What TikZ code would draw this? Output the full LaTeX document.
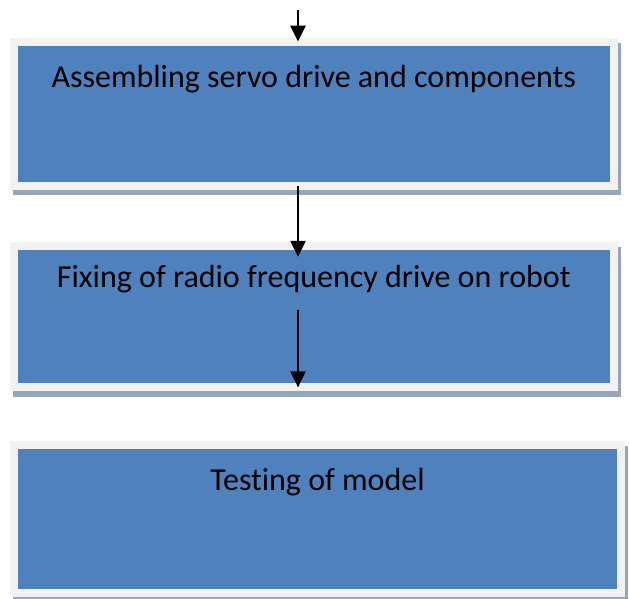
\documentclass[tikz,border=0pt]{standalone}
\usepackage{fontspec}
\setmainfont{Carlito}[Ligatures=NoCommon]
\usepackage{xcolor}
\usetikzlibrary{arrows, arrows.meta, shadows}

\definecolor{boxblue}{HTML}{4F81BD}
\definecolor{boxframe}{HTML}{F2F2F2}
\definecolor{boxshadow}{HTML}{98A6B6}

\begin{document}
\begin{tikzpicture}[x=1pt, y=-1pt,
  stagebox/.style={rectangle, fill=boxblue, draw=boxframe, line width=8pt,
    inner sep=0pt, outer sep=0pt,
    general shadow={fill=boxshadow, draw=boxshadow, line width=8pt,
      shadow xshift=3pt, shadow yshift=-5.5pt}},
  stagetext/.style={anchor=base, inner sep=0pt, text=black,
    font=\fontsize{32}{38}\selectfont},
  flow/.style={line width=2.4pt, -{Triangle[length=16pt, width=15pt]}}]
%\draw[step=50,gray,very thin] (0,0) grid (629,599); %background grid
\useasboundingbox (0,0) rectangle (629,599);

\node[stagebox, minimum width=600pt, minimum height=144pt]   (assemble) at (313.75,113.6) {};
\node[stagebox, minimum width=600pt, minimum height=141.6pt] (fixing)   at (313.75,316.6) {};
\node[stagebox, minimum width=607pt, minimum height=148pt]   (testing)  at (317.5,518.7) {};

\node[stagetext] (assembletext) at ([yshift=-46pt]assemble.north) {Assembling servo drive and components};
\node[stagetext] (fixingtext)   at ([yshift=-42pt]fixing.north)   {Fixing of radio frequency drive on robot};
\node[stagetext] (testingtext)  at ([yshift=-45.5pt]testing.north)  {Testing of model};

\coordinate (start)  at (298,10);
\coordinate (fixout) at (298,310);

\draw[flow] (start) -- (start |- assemble.north);
\draw[flow] (start |- assemble.south) -- ([yshift=-11pt]start |- fixing.north);
\draw[flow] (fixout) -- (fixout |- fixing.south);

\end{tikzpicture}
\end{document}
